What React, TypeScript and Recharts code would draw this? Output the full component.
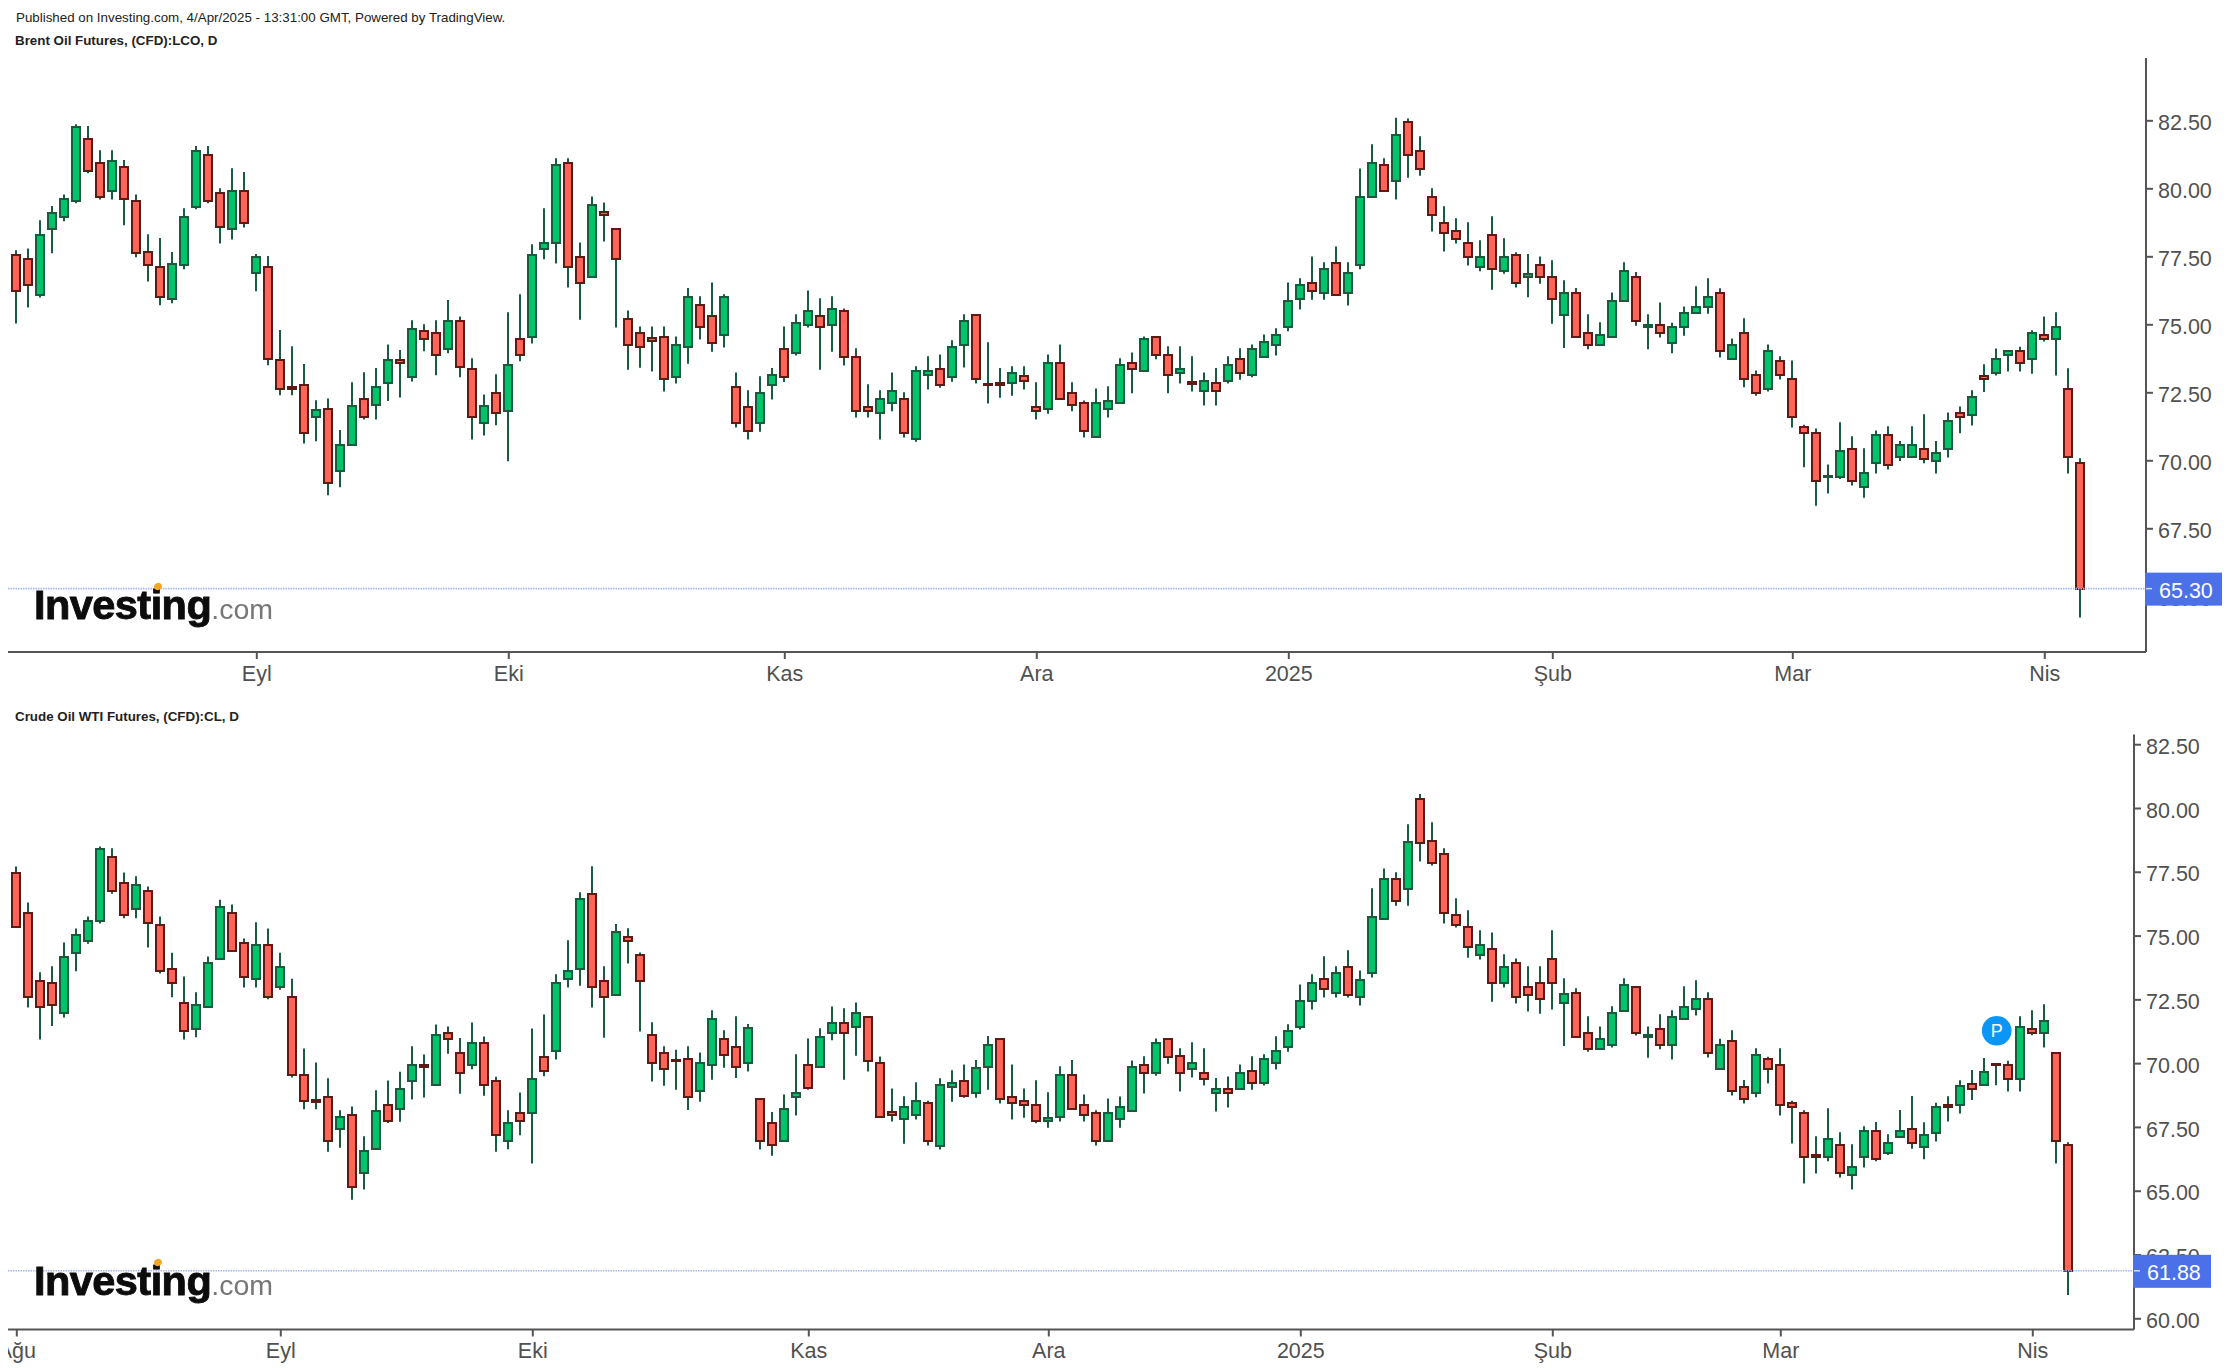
import React from 'react';
import { ComposedChart, Bar, XAxis, YAxis, ReferenceLine, ReferenceDot } from 'recharts';

const brentOpen = [
77.58,77.43,76.09,78.51,78.96,79.55,81.85,80.96,79.93,80.81,
79.56,77.66,77.14,75.95,77.20,79.32,81.25,79.86,78.53,79.93,
76.91,77.14,73.69,72.72,72.80,71.62,71.92,69.64,70.59,72.28,
72.06,72.87,73.69,73.08,74.79,74.71,74.12,75.15,73.39,71.39,
72.51,71.83,74.49,74.56,77.79,78.01,80.96,77.50,76.75,79.13,
78.53,75.22,74.71,74.50,74.56,73.07,74.18,75.74,75.31,74.62,
72.73,71.98,71.38,72.79,74.12,73.95,74.98,75.31,74.98,75.52,
73.83,71.98,71.75,72.13,72.28,70.79,73.15,73.38,73.07,74.25,
75.37,72.81,72.87,72.86,73.10,71.98,71.90,73.60,72.51,72.13,
70.87,71.90,72.13,73.60,73.31,74.56,73.90,73.24,72.88,72.56,
72.87,72.93,73.76,73.15,73.81,74.25,74.91,75.94,76.54,76.16,
77.29,76.16,77.20,79.69,80.89,80.29,82.44,81.40,79.71,78.75,
78.46,78.02,77.12,78.32,76.98,77.58,76.75,77.20,76.77,75.36,
76.18,74.71,74.25,74.55,75.87,76.77,74.91,75.00,74.33,74.91,
75.43,75.66,76.17,73.74,74.71,73.16,72.64,73.67,73.02,71.25,
71.02,69.39,69.41,70.44,69.02,69.91,70.96,70.14,70.14,70.44,
70.00,70.43,71.77,71.69,73.10,73.22,73.89,74.04,73.74,74.63,
74.48,72.65,69.92];
const brentHigh = [
77.74,77.81,78.84,79.37,79.79,82.37,82.31,81.42,81.42,81.06,
79.79,78.33,78.19,77.68,79.29,81.57,81.57,80.02,80.76,80.62,
77.60,77.53,74.81,74.21,73.56,72.23,72.29,71.13,72.89,73.26,
73.41,74.28,74.07,75.17,75.02,75.17,75.91,75.31,73.77,72.44,
73.18,75.46,76.12,77.96,79.29,81.12,81.12,78.03,79.72,79.50,
78.53,75.53,74.94,74.94,74.94,74.57,76.35,76.05,76.56,76.12,
73.25,72.59,73.11,73.41,74.94,75.39,76.26,75.98,76.05,75.60,
74.14,72.81,72.59,73.25,72.52,73.48,73.84,73.91,74.43,75.39,
75.39,74.36,73.41,73.48,73.48,72.89,73.91,74.28,72.89,72.22,
72.66,72.74,73.77,73.98,74.57,74.57,74.21,74.21,73.84,73.25,
73.41,73.84,74.14,74.28,74.64,74.87,76.56,76.71,77.51,77.30,
77.88,77.30,80.75,81.64,81.12,82.61,82.59,81.93,80.02,79.36,
78.92,78.77,78.11,78.99,78.18,77.67,77.60,77.51,77.37,76.64,
76.35,75.39,75.09,76.19,77.30,76.94,75.39,75.82,75.08,75.67,
76.42,76.71,76.34,74.50,75.24,73.32,74.28,73.84,73.69,71.33,
71.19,69.86,71.42,70.90,70.46,71.11,71.27,70.73,71.27,71.71,
70.73,71.78,72.00,72.59,73.55,74.13,74.06,74.19,74.80,75.31,
75.46,73.40,70.09];
const brentLow = [
75.05,75.64,76.00,77.63,78.81,79.47,80.57,79.61,79.61,78.66,
77.48,76.59,75.72,75.79,77.04,79.25,79.47,77.99,78.14,78.58,
76.23,73.51,72.41,72.41,70.64,70.72,68.73,69.03,70.59,71.52,
71.52,72.20,72.33,72.92,74.03,73.15,73.95,73.07,70.78,70.93,
71.31,69.98,73.66,74.31,77.41,77.25,76.37,75.19,76.75,78.06,
74.90,73.35,73.42,73.28,72.55,72.84,73.57,74.46,74.01,74.17,
71.22,70.78,71.07,72.25,72.90,73.87,74.90,73.35,74.01,73.50,
71.59,71.59,70.78,71.82,70.86,70.70,72.62,72.69,72.91,73.43,
72.84,72.11,72.32,72.39,72.62,71.52,71.73,72.27,71.82,70.86,
70.87,71.59,72.13,72.48,73.31,73.73,72.48,72.84,72.55,72.03,
72.03,72.84,72.98,73.07,73.81,73.87,74.76,75.56,75.92,75.92,
76.09,75.71,77.04,79.69,79.92,79.61,80.41,80.48,78.43,77.70,
77.99,77.18,76.97,76.29,76.88,76.37,76.01,76.51,75.04,74.15,
74.55,74.10,74.25,74.55,75.87,74.97,74.10,74.53,73.95,74.60,
75.43,75.41,73.80,73.74,72.70,72.39,72.55,72.99,71.22,69.76,
68.35,68.80,69.33,69.09,68.64,69.53,69.68,69.99,70.14,69.91,
69.53,70.12,71.01,71.30,72.53,73.14,73.28,73.28,73.20,74.39,
73.14,69.53,64.24];
const brentClose = [
76.25,76.46,78.32,79.12,79.63,82.29,80.66,79.70,81.04,79.63,
77.64,77.20,76.02,77.22,78.97,81.40,79.55,78.60,79.93,78.74,
77.51,73.76,72.64,72.64,71.03,71.85,69.19,70.59,72.00,71.62,
72.72,73.69,73.61,74.85,74.48,73.90,75.15,73.46,71.62,72.00,
71.77,73.54,73.90,77.58,78.02,80.88,77.12,76.53,79.41,79.02,
77.42,74.25,74.18,74.39,73.00,74.26,76.04,74.91,74.33,76.04,
71.38,71.08,72.51,73.17,73.07,75.08,75.52,74.91,75.59,73.81,
71.83,71.83,72.28,72.58,71.01,73.31,73.31,72.79,74.19,75.15,
73.00,72.77,72.77,73.24,72.93,71.83,73.60,72.27,72.04,71.10,
72.13,72.21,73.53,73.38,74.49,73.90,73.15,73.39,72.84,72.94,
72.56,73.53,73.22,74.12,74.35,74.63,75.88,76.47,76.25,77.06,
76.09,76.92,79.71,80.96,79.92,81.99,81.24,80.72,79.03,78.37,
78.16,77.49,77.51,77.05,77.50,76.53,76.85,76.75,75.94,76.18,
74.55,74.25,74.63,75.88,76.99,75.14,75.01,74.70,74.92,75.44,
75.66,76.04,74.04,74.27,73.00,72.49,74.04,73.16,71.60,71.02,
69.25,69.44,70.37,69.25,69.56,70.96,69.85,70.59,70.59,70.06,
70.29,71.48,71.62,72.36,73.00,73.75,74.04,73.60,74.71,74.48,
74.92,70.14,65.30];

const wtiOpen = [
77.48,75.91,73.25,73.17,71.98,74.34,74.79,75.59,78.11,77.09,
76.06,76.77,75.44,73.72,72.38,71.35,72.21,74.12,75.91,74.74,
73.32,74.65,73.00,72.62,69.54,68.56,68.69,67.44,67.99,65.70,
66.65,68.39,68.22,69.31,69.96,69.16,71.21,70.43,69.94,70.81,
69.33,66.95,68.07,68.07,70.26,70.51,73.31,73.70,76.63,73.25,
72.68,74.98,74.27,71.13,70.42,70.13,70.20,68.92,69.94,70.96,
70.67,70.01,68.62,67.68,66.96,68.68,69.96,69.86,71.21,71.60,
71.43,71.84,70.04,68.10,67.83,67.97,68.46,66.79,69.08,69.33,
68.83,69.86,70.98,68.71,68.55,68.39,67.74,67.90,69.57,68.39,
68.08,66.96,67.83,68.13,69.96,69.62,70.98,70.28,69.79,69.64,
68.86,69.01,69.00,69.73,69.23,70.03,70.64,71.43,72.45,73.33,
72.78,73.80,72.62,73.54,75.67,77.25,76.84,80.38,78.74,78.20,
75.84,75.37,74.26,74.50,73.15,73.95,73.01,73.16,74.11,72.37,
72.78,71.22,70.56,70.72,72.05,73.01,71.04,71.37,70.73,71.76,
72.13,72.54,69.79,70.90,69.09,68.85,70.19,69.96,68.47,68.07,
66.43,66.34,66.82,65.64,66.34,67.37,66.50,67.13,67.45,66.72,
67.29,68.39,68.39,69.19,69.15,69.98,69.96,69.40,71.37,71.19,
70.43,66.82];
const wtiHigh = [
77.73,76.32,73.58,73.82,74.75,75.30,75.77,78.51,78.44,77.49,
77.34,76.94,75.77,74.35,73.42,72.80,74.20,76.42,76.24,74.90,
75.54,75.30,74.35,73.33,70.59,70.04,69.43,68.17,68.32,67.15,
68.96,69.34,69.68,70.68,70.36,71.53,71.46,71.00,71.61,71.06,
69.49,68.17,68.87,71.38,71.93,73.50,74.84,76.72,77.74,73.82,
75.47,75.31,74.36,71.62,70.68,70.54,70.68,70.44,72.09,71.31,
71.86,71.55,68.62,68.10,68.79,70.37,70.99,71.39,72.24,72.17,
72.40,71.84,70.28,69.03,68.72,69.27,68.55,69.43,69.74,69.97,
70.14,71.08,70.98,69.97,69.03,69.35,68.88,69.90,70.14,68.79,
68.17,68.63,68.71,70.12,70.29,70.99,70.98,70.60,70.84,70.60,
69.44,69.50,69.97,70.29,70.37,71.07,71.54,73.10,73.50,74.21,
73.82,74.44,73.65,76.87,77.65,77.50,79.38,80.57,79.46,78.44,
76.48,76.01,75.23,75.14,74.29,74.12,73.82,73.82,75.23,73.35,
72.95,71.86,71.46,72.25,73.35,73.01,71.46,71.94,72.09,73.03,
73.27,72.80,70.98,71.31,69.36,70.60,70.27,70.60,68.55,68.17,
67.15,68.25,67.31,66.84,67.55,67.71,67.23,68.18,68.73,67.70,
68.47,68.72,69.35,69.75,70.22,69.98,70.11,71.86,72.09,72.33,
70.45,66.92];
const wtiLow = [
75.35,72.20,70.95,71.48,71.81,73.62,74.70,75.49,76.66,75.70,
75.70,74.55,73.53,72.60,70.95,71.03,72.21,74.12,74.40,72.98,
72.98,72.52,72.90,69.46,68.21,68.21,66.55,66.70,64.67,65.07,
66.65,67.67,67.72,68.59,68.67,69.16,70.39,68.82,69.78,68.74,
66.55,66.64,67.19,66.09,69.51,70.16,72.98,73.05,72.20,71.01,
72.68,73.92,71.26,69.30,69.13,68.98,68.18,68.51,69.37,69.84,
69.44,69.69,66.63,66.39,66.96,67.97,68.98,69.86,70.92,69.37,
70.31,69.69,67.90,67.73,66.86,67.81,66.79,66.63,68.51,68.66,
68.66,68.98,68.44,67.81,67.88,67.66,67.49,67.73,68.21,67.73,
66.79,66.96,67.49,68.13,68.83,69.53,70.00,68.91,69.46,69.14,
68.12,68.28,69.00,68.98,69.14,69.77,70.47,71.34,72.12,72.59,
72.59,72.59,72.28,73.38,75.67,76.19,76.19,77.92,77.77,75.49,
75.34,74.15,74.08,72.43,72.98,72.36,72.04,71.96,72.12,70.69,
71.04,70.47,70.56,70.63,72.05,71.10,70.23,70.56,70.16,71.76,
71.89,70.24,69.79,68.75,68.44,68.68,69.22,67.97,66.87,65.30,
65.69,66.17,65.54,65.07,65.93,66.17,66.42,67.13,66.66,66.25,
66.95,67.73,68.05,68.57,69.15,69.15,68.91,68.91,71.11,70.63,
66.09,60.93];
const wtiClose = [
75.35,72.62,72.23,72.30,74.19,75.05,75.60,78.43,76.76,75.82,
77.01,75.50,73.62,73.15,71.28,72.30,73.95,76.14,74.40,73.38,
74.65,72.62,73.80,69.54,68.52,68.51,66.97,67.92,65.18,66.59,
68.16,67.76,69.02,69.96,69.86,71.13,70.96,69.63,70.81,69.16,
67.20,67.69,67.76,69.41,69.71,73.17,73.65,76.47,72.99,72.60,
75.14,74.80,73.24,70.01,69.79,70.10,68.68,70.04,71.76,70.33,
69.86,71.38,66.96,66.80,68.24,68.86,69.06,71.06,71.60,71.19,
72.00,70.10,67.90,67.98,68.31,68.55,66.96,69.18,69.26,68.75,
69.81,70.74,68.61,68.45,68.37,67.74,67.85,69.57,68.21,67.98,
66.96,68.07,68.32,69.88,69.62,70.82,70.25,69.62,70.03,69.39,
69.00,68.85,69.64,69.23,70.18,70.50,71.29,72.46,73.16,72.92,
73.56,72.68,73.26,75.76,77.25,76.37,78.67,78.65,77.86,75.90,
75.43,74.56,74.65,73.15,73.80,72.60,72.68,72.53,73.15,72.71,
71.04,70.56,70.98,71.99,73.09,71.19,71.14,70.73,71.84,72.23,
72.54,70.42,70.74,68.93,68.60,70.35,69.79,68.38,68.30,66.34,
66.34,67.06,65.70,65.96,67.37,66.25,66.90,67.37,66.90,67.21,
68.31,68.30,69.11,69.02,69.66,69.95,69.40,71.45,71.19,71.68,
66.97,61.88];

const brentPriceTicks = [65, 67.5, 70, 72.5, 75, 77.5, 80, 82.5];
const wtiPriceTicks = [60, 62.5, 65, 67.5, 70, 72.5, 75, 77.5, 80, 82.5];
const brentMonthIdx = [20, 41, 64, 85, 106, 128, 148, 169];
const brentMonths = ['Eyl', 'Eki', 'Kas', 'Ara', '2025', 'Şub', 'Mar', 'Nis'];
const wtiMonthIdx = [0, 22, 43, 66, 86, 107, 128, 147, 168];
const wtiMonths = ['Ağu', 'Eyl', 'Eki', 'Kas', 'Ara', '2025', 'Şub', 'Mar', 'Nis'];
const PAGE_TITLE = 'Published on Investing.com, 4/Apr/2025 - 13:31:00 GMT, Powered by TradingView.';
const brentTitle = 'Brent Oil Futures, (CFD):LCO, D';
const wtiTitle = 'Crude Oil WTI Futures, (CFD):CL, D';
const brentLast = 65.30;
const wtiLast = 61.88;
const previousMarkerIdx = 165;
const previousMarkerPrice = 71.29;

const FONT = '"Liberation Sans", Arial, sans-serif';
const AXIS = '#555555';
const TXT = '#505050';
const UP = '#00c46c';
const DOWN = '#ff6459';
const WICK = '#1c5a3e';
const UP_EDGE = '#1c5a3e';
const DOWN_EDGE = '#5e1a14';

const buildRows = (o: number[], h: number[], l: number[], c: number[], total: number) =>
  Array.from({ length: total }, (_, i) =>
    i < o.length
      ? { i, open: o[i], high: h[i], low: l[i], close: c[i], range: [l[i], h[i]] }
      : { i });

const Candle = (props: any) => {
  const { x, y, width, height, payload } = props;
  if (!payload || payload.open == null || !height) return null;
  const { open, high, low, close } = payload;
  const k = height / (high - low);
  const cx = Math.round(x + width / 2);
  const yTop = Math.round(y + (high - Math.max(open, close)) * k);
  const yBot = Math.round(y + (high - Math.min(open, close)) * k);
  const up = close >= open;
  return (
    <g>
      <line x1={cx} x2={cx} y1={y} y2={y + height} stroke={WICK} strokeWidth={2} />
      <rect
        x={cx - 4}
        y={yTop}
        width={8}
        height={Math.max(yBot - yTop, 1)}
        fill={up ? UP : DOWN}
        stroke={up ? UP_EDGE : DOWN_EDGE}
        strokeWidth={2}
      />
    </g>
  );
};

const makeTick = (idx: number[], names: string[], axisY: number) => (props: any) => {
  const { x, payload } = props;
  const pos = idx.indexOf(payload.value);
  if (pos < 0) return null;
  const tx = x + 1.8;
  return (
    <g>
      <line x1={tx} x2={tx} y1={axisY} y2={axisY + 7} stroke={AXIS} strokeWidth={2} />
      <text x={tx} y={axisY + 28.5} textAnchor="middle" fontFamily={FONT} fontSize={21.5} fill={TXT}>
        {names[pos]}
      </text>
    </g>
  );
};

const PriceTick = (props: any) => (
  <text x={props.x} y={props.y + 9.1} fontFamily={FONT} fontSize={21.5} fill={TXT}>
    {Number(props.payload.value).toFixed(2)}
  </text>
);

const makeLastLabel = (value: number) => (props: any) => {
  const { viewBox } = props;
  const left = viewBox.x + viewBox.width;
  const cy = viewBox.y;
  return (
    <g>
      <rect x={left - 1} y={cy - 16} width={78} height={33} fill="#4b70e8" />
      <line x1={left} x2={left + 6} y1={cy} y2={cy} stroke="#d5ddfa" strokeWidth={1.5} />
      <text x={left + 13} y={cy + 9} fontFamily={FONT} fontSize={21.5} fill="#ffffff">
        {value.toFixed(2)}
      </text>
    </g>
  );
};

const PMarker = (props: any) => (
  <g>
    <circle cx={props.cx + 1.7} cy={props.cy} r={14.8} fill="#0a96f6" />
    <text x={props.cx + 1.7} y={props.cy + 6} textAnchor="middle" fontFamily={FONT} fontSize={18} fontWeight={500} fill="#ffffff">
      P
    </text>
  </g>
);

const Logo = ({ top }: { top: number }) => (
  <div style={{ position: 'absolute', left: 34, top, whiteSpace: 'nowrap', fontFamily: FONT, lineHeight: '50px', height: 50, filter: 'blur(0.7px)' }}>
    <span style={{ fontSize: 41.5, fontWeight: 700, color: '#0c0c0c', letterSpacing: '-0.55px', WebkitTextStroke: '0.9px #0c0c0c' }}>Investing</span>
    <span style={{ fontSize: 28.5, color: '#777' }}>.com</span>
    <span style={{ position: 'absolute', left: 120, top: 3, width: 8, height: 7, borderRadius: '50%', background: '#f5a623', transform: 'rotate(-30deg)' }} />
  </div>
);

const Panel = (p: {
  top: number; height: number; plotTop: number; axisH: number; yW: number;
  rows: any[]; domain: number[]; ticks: number[]; idx: number[]; names: string[]; marker?: boolean;
}) => {
  const axisY = p.height - p.axisH;
  return (
    <div style={{ position: 'absolute', left: 8, top: p.top }}>
      <ComposedChart
        width={2214}
        height={p.height}
        data={p.rows}
        barCategoryGap={0}
        margin={{ top: p.plotTop, right: 0, bottom: 0, left: 0 }}
      >
        <XAxis
          dataKey="i"
          type="category"
          height={p.axisH}
          padding={{ left: 1, right: 1 }}
          interval={0}
          ticks={p.idx}
          tick={makeTick(p.idx, p.names, axisY)}
          tickLine={false}
          axisLine={{ stroke: AXIS, strokeWidth: 2 }}
        />
        <YAxis
          orientation="right"
          type="number"
          width={p.yW}
          domain={p.domain}
          ticks={p.ticks}
          interval={0}
          allowDataOverflow
          tick={<PriceTick />}
          tickSize={7}
          tickMargin={5}
          tickLine={{ stroke: AXIS, strokeWidth: 2 }}
          axisLine={{ stroke: AXIS, strokeWidth: 2 }}
        />
        <Bar dataKey="range" barSize={9} shape={<Candle />} isAnimationActive={false} />
        {p.marker ? (
          <ReferenceDot x={previousMarkerIdx} y={previousMarkerPrice} shape={PMarker} />
        ) : null}
      </ComposedChart>
    </div>
  );
};

/* A second, transparent chart on the same scales, so the last-price line and its tag lie over the axis labels. */
const LastPriceLayer = (p: {
  top: number; height: number; plotTop: number; axisH: number; yW: number;
  rows: any[]; domain: number[]; last: number;
}) => (
  <div style={{ position: 'absolute', left: 8, top: p.top, pointerEvents: 'none' }}>
    <ComposedChart
      width={2214}
      height={p.height}
      data={p.rows}
      margin={{ top: p.plotTop, right: p.yW, bottom: p.axisH, left: 0 }}
    >
      <XAxis dataKey="i" type="category" hide />
      <YAxis type="number" domain={p.domain} allowDataOverflow hide />
      <ReferenceLine
        y={p.last}
        stroke="#a7b7f1"
        strokeWidth={1.6}
        strokeDasharray="1.5 1"
        label={{ content: makeLastLabel(p.last) }}
      />
    </ComposedChart>
  </div>
);

const brentRows = buildRows(brentOpen, brentHigh, brentLow, brentClose, 178);
const wtiRows = buildRows(wtiOpen, wtiHigh, wtiLow, wtiClose, 177);
const brentDomain = [62.97, 84.81];
const wtiDomain = [59.58, 82.90];

export default function App() {
  return (
    <div style={{ position: 'absolute', left: 0, top: 0, width: 2230, height: 1368, overflow: 'hidden', background: '#fff' }}>
      <Panel top={0} height={690} plotTop={58} axisH={38} yW={76} rows={brentRows}
        domain={brentDomain} ticks={brentPriceTicks} idx={brentMonthIdx} names={brentMonths} />
      <Panel top={690} height={678} plotTop={44.5} axisH={38.5} yW={88} rows={wtiRows}
        domain={wtiDomain} ticks={wtiPriceTicks} idx={wtiMonthIdx} names={wtiMonths} marker />
      <LastPriceLayer top={0} height={690} plotTop={58} axisH={38} yW={76} rows={brentRows} domain={brentDomain} last={brentLast} />
      <LastPriceLayer top={690} height={678} plotTop={44.5} axisH={38.5} yW={88} rows={wtiRows} domain={wtiDomain} last={wtiLast} />
      <div style={{ position: 'absolute', left: 16, top: 10, fontFamily: FONT, fontSize: 13.35, color: '#222', whiteSpace: 'nowrap' }}>{PAGE_TITLE}</div>
      <div style={{ position: 'absolute', left: 15, top: 33, fontFamily: FONT, fontSize: 13.35, fontWeight: 700, color: '#222', whiteSpace: 'nowrap' }}>{brentTitle}</div>
      <div style={{ position: 'absolute', left: 15, top: 709, fontFamily: FONT, fontSize: 13.35, fontWeight: 700, color: '#222', whiteSpace: 'nowrap' }}>{wtiTitle}</div>
      <Logo top={580} />
      <Logo top={1256} />
    </div>
  );
}
